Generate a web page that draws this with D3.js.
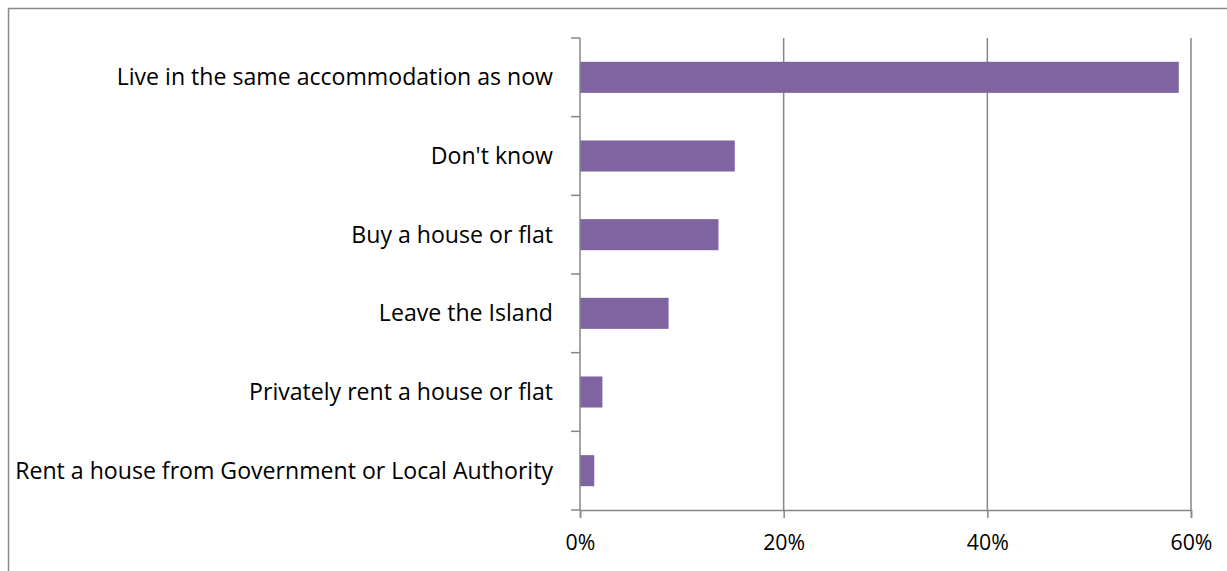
<!DOCTYPE html>
<html>
<head>
<meta charset="utf-8">
<script src="https://cdn.jsdelivr.net/npm/d3@7"></script>
<style>
  html, body { margin: 0; padding: 0; background: #fff; }
  svg { display: block; }
  text { font-family: "Open Sans", sans-serif; fill: #000; }
</style>
</head>
<body>
<div id="chart"></div>
<script>
// Housing intentions: share of respondents per option
const categories = [
  "Live in the same accommodation as now",
  "Don't know",
  "Buy a house or flat",
  "Leave the Island",
  "Privately rent a house or flat",
  "Rent a house from Government or Local Authority"
];
const values = [0.588, 0.152, 0.136, 0.087, 0.022, 0.014];
const xTicks = [0, 0.2, 0.4, 0.6];

const W = 1227, H = 571;
const margin = { left: 580, right: 36, top: 38, bottom: 61 };
const axisColor = "#868686";
const barColor = "#8064A2";
const labelSize = 23.1;
const tickSize = 21.3;

const svg = d3.select("#chart").append("svg")
  .attr("width", W).attr("height", H);

// outer chart frame
svg.append("rect")
  .attr("x", 8.5).attr("y", 8.5)
  .attr("width", W + 10).attr("height", H + 10)
  .attr("fill", "none").attr("stroke", "#8a8a8a").attr("stroke-width", 1.5);

const x = d3.scaleLinear().domain([0, 0.6]).range([margin.left, W - margin.right]);
const y = d3.scaleBand().domain(categories)
  .range([margin.top, H - margin.bottom])
  .paddingInner(0.605).paddingOuter(0.3025);

// vertical gridlines
svg.append("g").selectAll("line").data(xTicks.slice(1)).join("line")
  .attr("x1", d => x(d)).attr("x2", d => x(d))
  .attr("y1", margin.top).attr("y2", H - margin.bottom)
  .attr("stroke", axisColor).attr("stroke-width", 1.5);

// bars
svg.append("g").selectAll("rect").data(values).join("rect")
  .attr("x", x(0))
  .attr("y", (d, i) => y(categories[i]))
  .attr("width", d => x(d) - x(0))
  .attr("height", y.bandwidth())
  .attr("fill", barColor);

// x axis
const xAxis = svg.append("g")
  .attr("transform", `translate(0,${H - margin.bottom})`)
  .call(d3.axisBottom(x).tickValues(xTicks).tickFormat(d3.format(".0%"))
    .tickSize(8).tickPadding(17));
xAxis.select(".domain").attr("stroke", axisColor).attr("stroke-width", 1.5);
xAxis.selectAll(".tick line").attr("stroke", axisColor).attr("stroke-width", 1.5);
xAxis.selectAll("text").attr("font-size", tickSize).attr("fill", "#000")
  .attr("font-family", "'Open Sans', sans-serif");

// y axis with tick marks at band boundaries
const yAxisG = svg.append("g");
yAxisG.append("line")
  .attr("x1", x(0)).attr("x2", x(0))
  .attr("y1", margin.top).attr("y2", H - margin.bottom)
  .attr("stroke", axisColor).attr("stroke-width", 1.5);
const bounds = d3.range(categories.length + 1).map(i => margin.top + i * (H - margin.bottom - margin.top) / categories.length);
yAxisG.selectAll("line.t").data(bounds).join("line").attr("class", "t")
  .attr("x1", x(0) - 9).attr("x2", x(0))
  .attr("y1", d => d).attr("y2", d => d)
  .attr("stroke", axisColor).attr("stroke-width", 1.5);

// category labels
svg.append("g").selectAll("text").data(categories).join("text")
  .attr("x", x(0) - 27)
  .attr("y", d => y(d) + y.bandwidth() / 2 + 8)
  .attr("text-anchor", "end")
  .attr("font-size", labelSize)
  .text(d => d);
</script>
</body>
</html>
